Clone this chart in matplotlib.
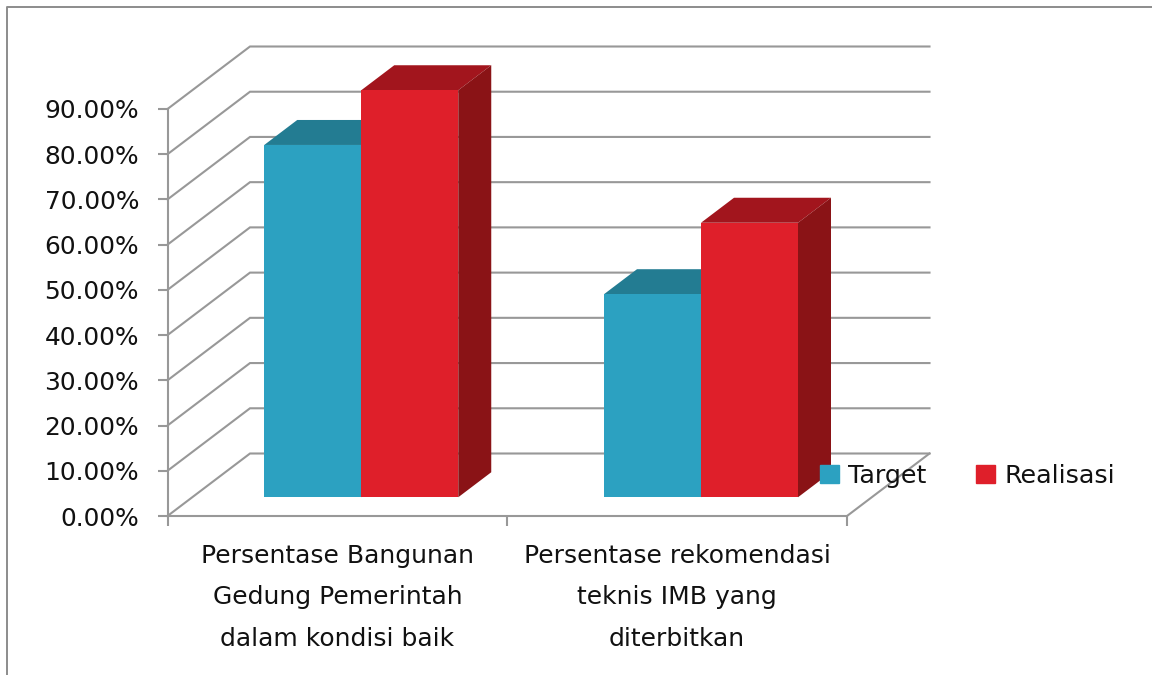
import matplotlib
matplotlib.use('Agg')
import matplotlib.pyplot as plt
from matplotlib.lines import Line2D
from matplotlib.patches import Patch

categories = ['Persentase Bangunan\nGedung Pemerintah\ndalam kondisi baik',
              'Persentase rekomendasi\nteknis IMB yang\nditerbitkan']
target = [77.9, 44.9]
realisasi = [90.0, 60.7]
y_ticks = [0, 10, 20, 30, 40, 50, 60, 70, 80, 90]

W, H = 1152, 675
grey = '#989898'
blue, blue_top = '#2ca1c1', '#237c92'
red, red_top, red_side = '#df1f2a', '#a2151d', '#8a1316'

fig = plt.figure(figsize=(W/100, H/100), dpi=100)
# axes = the front plane of the fake 3d box, everything else draws outside it
x0, x1, y0, y90 = 167.5, 847, 516, 109
ax = fig.add_axes([x0/W, 1-y0/H, (x1-x0)/W, (y0-y90)/H])
ax.set_xlim(0, 2)
ax.set_ylim(0, 90)

# depth of the box in data units
px_x = 2/(x1-x0)
px_y = 90/(y0-y90)
DX = 82.5*px_x
DY = 62.5*px_y

def proj(x, y, d):
    return x + d*DX, y + d*DY

# walls and gridlines
for v in y_ticks:
    xs, ys = zip(proj(0, v, 0), proj(0, v, 1), proj(2, v, 1))
    ax.plot(xs, ys, color=grey, lw=1.5, clip_on=False, zorder=1, solid_joinstyle='miter')
xs, ys = zip(proj(2, 0, 0), proj(2, 0, 1))
ax.plot(xs, ys, color=grey, lw=1.5, clip_on=False, zorder=1)

# bars
bw = 97*px_x
gap = 72*px_x
d_front, d_back = 0.30, 0.70

def bar3d(x, v, col, top, side):
    # front face sits on the floor at depth d_front
    fx, fy = proj(x, 0, d_front)
    ax.bar(fx, v, bw, bottom=fy, align='edge', color=col, clip_on=False, zorder=3)
    pts = [proj(x, v, d_front), proj(x+bw, v, d_front), proj(x+bw, v, d_back), proj(x, v, d_back)]
    ax.fill(*zip(*pts), color=top, lw=0, clip_on=False, zorder=2.5)
    pts = [proj(x+bw, 0, d_front), proj(x+bw, v, d_front), proj(x+bw, v, d_back), proj(x+bw, 0, d_back)]
    ax.fill(*zip(*pts), color=side, lw=0, clip_on=False, zorder=2.5)

for i in range(len(categories)):
    bar3d(i+gap, target[i], blue, blue_top, blue_top)
    bar3d(i+gap+bw, realisasi[i], red, red_top, red_side)

# axes
for s in ['top', 'right']:
    ax.spines[s].set_visible(False)
for s in ['left', 'bottom']:
    ax.spines[s].set_color(grey)
    ax.spines[s].set_linewidth(1.5)
ax.patch.set_alpha(0)
ax.set_yticks(y_ticks)
ax.set_yticklabels(['%.2f%%' % v for v in y_ticks])
ax.tick_params(axis='y', length=7, width=1.5, color=grey, pad=13.5, labelsize=17.9, labelcolor='#111111')
ax.set_xticks([0, 1, 2])
ax.set_xticklabels(['', '', ''])
ax.tick_params(axis='x', length=7.5, width=1.5, color=grey)
ax.set_xticks([0.5, 1.5], minor=True)
ax.set_xticklabels(categories, minor=True, fontsize=18, color='#111111', linespacing=1.92)
ax.tick_params(axis='x', which='minor', length=0, pad=20)

handles = [Patch(color=blue, label='Target'), Patch(color=red, label='Realisasi')]
ax.legend(handles=handles, ncols=2, frameon=False, fontsize=18.3, labelcolor='#111111',
          handlelength=0.75, handleheight=0.75, handletextpad=0.35, columnspacing=1.97,
          borderpad=0, borderaxespad=0, loc='lower left',
          bbox_to_anchor=((820-x0)/(x1-x0), (y0-488)/(y0-y90)))

# outer chart frame, only top and left are visible in the crop
fig.add_artist(Line2D([7/W, 7/W, 1], [0, 1-6.5/H, 1-6.5/H], color='#8c8c8c', lw=1.4))

fig.savefig('out.png', dpi=100)
